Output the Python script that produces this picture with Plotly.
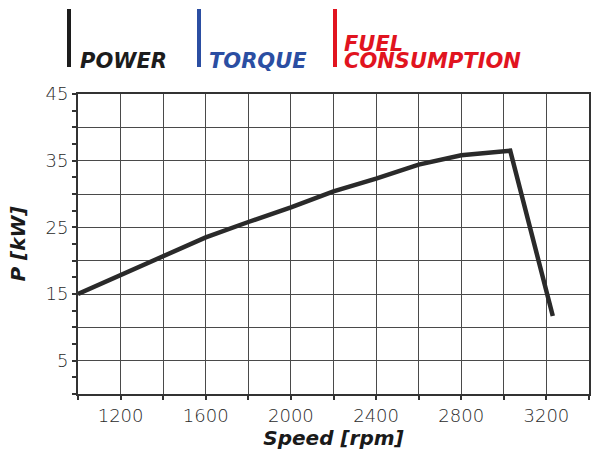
import plotly.graph_objects as go

# ---- data ----
speed_rpm = [1000, 1200, 1400, 1600, 1800, 2000, 2200, 2400, 2600, 2800, 3030, 3230]
power_kw = [15.0, 17.8, 20.7, 23.5, 25.8, 28.0, 30.4, 32.3, 34.4, 35.8, 36.5, 11.7]

series_names = ["POWER", "TORQUE", "FUEL", "CONSUMPTION"]
series_colors = ["#1c1c1c", "#2b4ea2", "#e1141f"]

x_grid = list(range(1000, 3401, 200))
x_tick_labels = [1200, 1600, 2000, 2400, 2800, 3200]
y_grid = list(range(0, 46, 5))
y_tick_labels = [5, 15, 25, 35, 45]

W, H = 594, 456
L, R, T, B = 78, 5, 94, 62
PW, PH = W - L - R, H - T - B


def px(x):
    return (x - L) / PW


def py(y):
    return (H - B - y) / PH


fig = go.Figure()
fig.add_trace(go.Scatter(
    x=speed_rpm, y=power_kw, mode="lines",
    line=dict(color="#2a2a2a", width=4.5),
    name=series_names[0], showlegend=False, hoverinfo="x+y"))

tick_font = dict(family="DejaVu Sans", size=18, color="#2a2a2a", weight=300)
title_font = dict(family="DejaVu Sans", size=20, color="#1a1a1a", weight="bold", style="italic")

fig.update_xaxes(
    range=[1000, 3400], tickvals=x_grid, automargin=False,
    ticktext=[str(v) if v in x_tick_labels else "" for v in x_grid],
    showgrid=True, gridcolor="#4a4a4a", gridwidth=1,
    showline=True, linecolor="#333333", linewidth=2, mirror=True,
    ticks="outside", ticklen=4, tickcolor="#333333", tickwidth=1.5,
    tickfont=tick_font, zeroline=False,
    title=dict(text="Speed [rpm]", font=title_font, standoff=6),
)
fig.update_yaxes(
    range=[0, 45], tickvals=y_grid, automargin=False,
    ticktext=[str(v) if v in y_tick_labels else "" for v in y_grid],
    showgrid=True, gridcolor="#4a4a4a", gridwidth=1,
    showline=True, linecolor="#333333", linewidth=2, mirror=True,
    ticks="outside", ticklen=4, tickcolor="#333333", tickwidth=1.5,
    minor=dict(dtick=2.5, ticks="outside", ticklen=4, tickcolor="#333333", showgrid=False),
    tickfont=tick_font, zeroline=False,
    title=dict(text="P [kW]", font=title_font, standoff=14),
)

# custom legend
legend_font = dict(family="DejaVu Sans", size=21, weight="bold", style="italic")
bar_x = [69, 199, 335]
text_x = [78, 207, 342]
for i in range(3):
    fig.add_shape(type="line", xref="paper", yref="paper",
                  x0=px(bar_x[i]), x1=px(bar_x[i]), y0=py(9), y1=py(67),
                  line=dict(color=series_colors[i], width=4))
legend_items = [(series_names[0], text_x[0], 61.5, series_colors[0]),
                (series_names[1], text_x[1], 61.5, series_colors[1]),
                (series_names[2], text_x[2], 44, series_colors[2]),
                (series_names[3], text_x[2], 61.5, series_colors[2])]
for name, tx, ty, col in legend_items:
    fig.add_annotation(text=name, xref="paper", yref="paper", x=px(tx), y=py(ty),
                       xanchor="left", yanchor="middle", showarrow=False,
                       font=dict(**legend_font, color=col))

fig.update_layout(
    width=W, height=H,
    margin=dict(l=L, r=R, t=T, b=B, autoexpand=False),
    paper_bgcolor="white", plot_bgcolor="white",
    showlegend=False,
)

post = (
    "document.documentElement.style.margin='0';"
    "document.documentElement.style.overflow='hidden';"
    "document.body.style.margin='0';"
    "document.body.style.overflow='hidden';"
    "Plotly.relayout('{plot_id}', {width: %d, height: %d});" % (W, H)
)
fig.write_html("out.html", post_script=post,
               config={"responsive": False, "displayModeBar": False})
